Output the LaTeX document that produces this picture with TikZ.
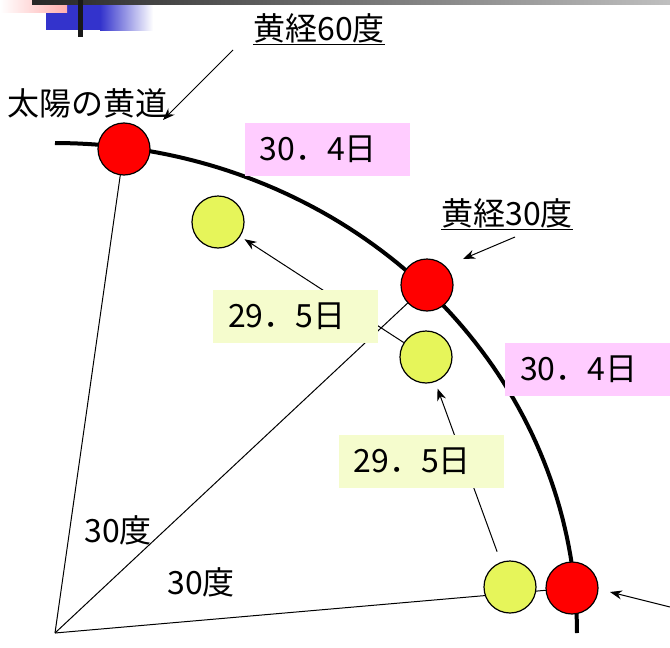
\documentclass[tikz,border=0pt]{standalone}
\usepackage{fontspec}
\setmainfont{Noto Sans CJK JP}
\usetikzlibrary{arrows.meta}

\definecolor{sunred}{RGB}{255,0,0}
\definecolor{moonyellow}{RGB}{230,245,90}
\definecolor{daypink}{RGB}{255,204,255}
\definecolor{dayyellow}{RGB}{245,252,205}
\definecolor{headblue}{RGB}{51,51,204}
\definecolor{headpink}{RGB}{255,175,175}

\begin{document}
\begin{tikzpicture}[x=1pt,y=-1pt]

  % Definitions
  \tikzstyle{sun} = [circle, minimum size=52pt, inner sep=0pt, draw=black, line width=1.2pt, fill=sunred]
  \tikzstyle{moon} = [circle, minimum size=52pt, inner sep=0pt, draw=black, line width=1.2pt, fill=moonyellow]
  \tikzstyle{solar} = [rectangle, fill=daypink, minimum height=53pt, text width=135pt, inner xsep=15pt, align=left, font=\fontsize{32}{36}\selectfont]
  \tikzstyle{lunar} = [rectangle, fill=dayyellow, minimum height=53pt, text width=135pt, inner xsep=15pt, align=left, font=\fontsize{32}{36}\selectfont]
  \tikzstyle{txt} = [inner sep=0pt, font=\fontsize{32}{36}\selectfont]
  \tikzstyle{spoke} = [line width=1pt]
  \tikzstyle{ecliptic} = [line width=4pt]
  \tikzstyle{arrow} = [line width=1pt,->,>={Stealth[length=12pt,width=9pt]}]

  \useasboundingbox (0,0) rectangle (670,648);

  % header
  \fill[headblue] (46,3) rectangle (100,30);
  \shade[left color=headblue, right color=white] (100,3) rectangle (153,30);
  \shade[left color=white, right color=headpink] (0,0) rectangle (67,12);
  \shade[left color=black!85, right color=black!25] (32,0) rectangle (670,4);
  \fill[black!90] (78,0) rectangle (83,37);

  % spokes
  \coordinate (O) at (55,633);
  \coordinate (p60) at (124,149);
  \coordinate (p30) at (427,285);
  \coordinate (p0) at (572,588);
  \draw[spoke] (O) -- (p60);
  \draw[spoke] (O) -- (p30);
  \draw[spoke] (O) -- (p0);

  \draw[ecliptic] plot[domain=0:90, samples=80] ({55+522*cos(\x)}, {633-490*sin(\x)});

  \node (sun60) [sun] at (p60) {};
  \node (sun30) [sun] at (p30) {};
  \node (sun0) [sun] at (p0) {};
  \node (moon1) [moon] at (218,222) {};
  \node (moon2) [moon] at (426,357) {};
  \node (moon3) [moon] at (510,587) {};

  \draw[arrow, shorten <=11pt, shorten >=7pt] (moon3) -- (moon2);
  \draw[arrow, shorten >=5pt] (moon2) -- (moon1);

  \node (d1) [solar] at (327,149) {30．4日};
  \node (d2) [solar] at (587.5,369.5) {30．4日};
  \node (m1) [lunar] at (295.5,316.5) {29．5日};
  \node (m2) [lunar] at (421,461) {29．5日};

  \node (ecl) [txt] at (88,103) {太陽の黄道};
  \node (lbl60) [txt] at (319,29) {\underline{黄経60度}};
  \node (lbl30) [txt] at (507,214) {\underline{黄経30度}};
  \node (ang1) [txt] at (118,530) {30度};
  \node (ang2) [txt] at (201,582) {30度};

  \coordinate (a60) at (233,50);
  \coordinate (t60) at (163,120);
  \coordinate (a30) at (515,237);
  \coordinate (t30) at (463,259);
  \coordinate (a0) at (670,607);
  \coordinate (t0) at (610,592);
  \draw[arrow] (a60) -- (t60);
  \draw[arrow] (a30) -- (t30);
  \draw[arrow] (a0) -- (t0);

\end{tikzpicture}
\end{document}
